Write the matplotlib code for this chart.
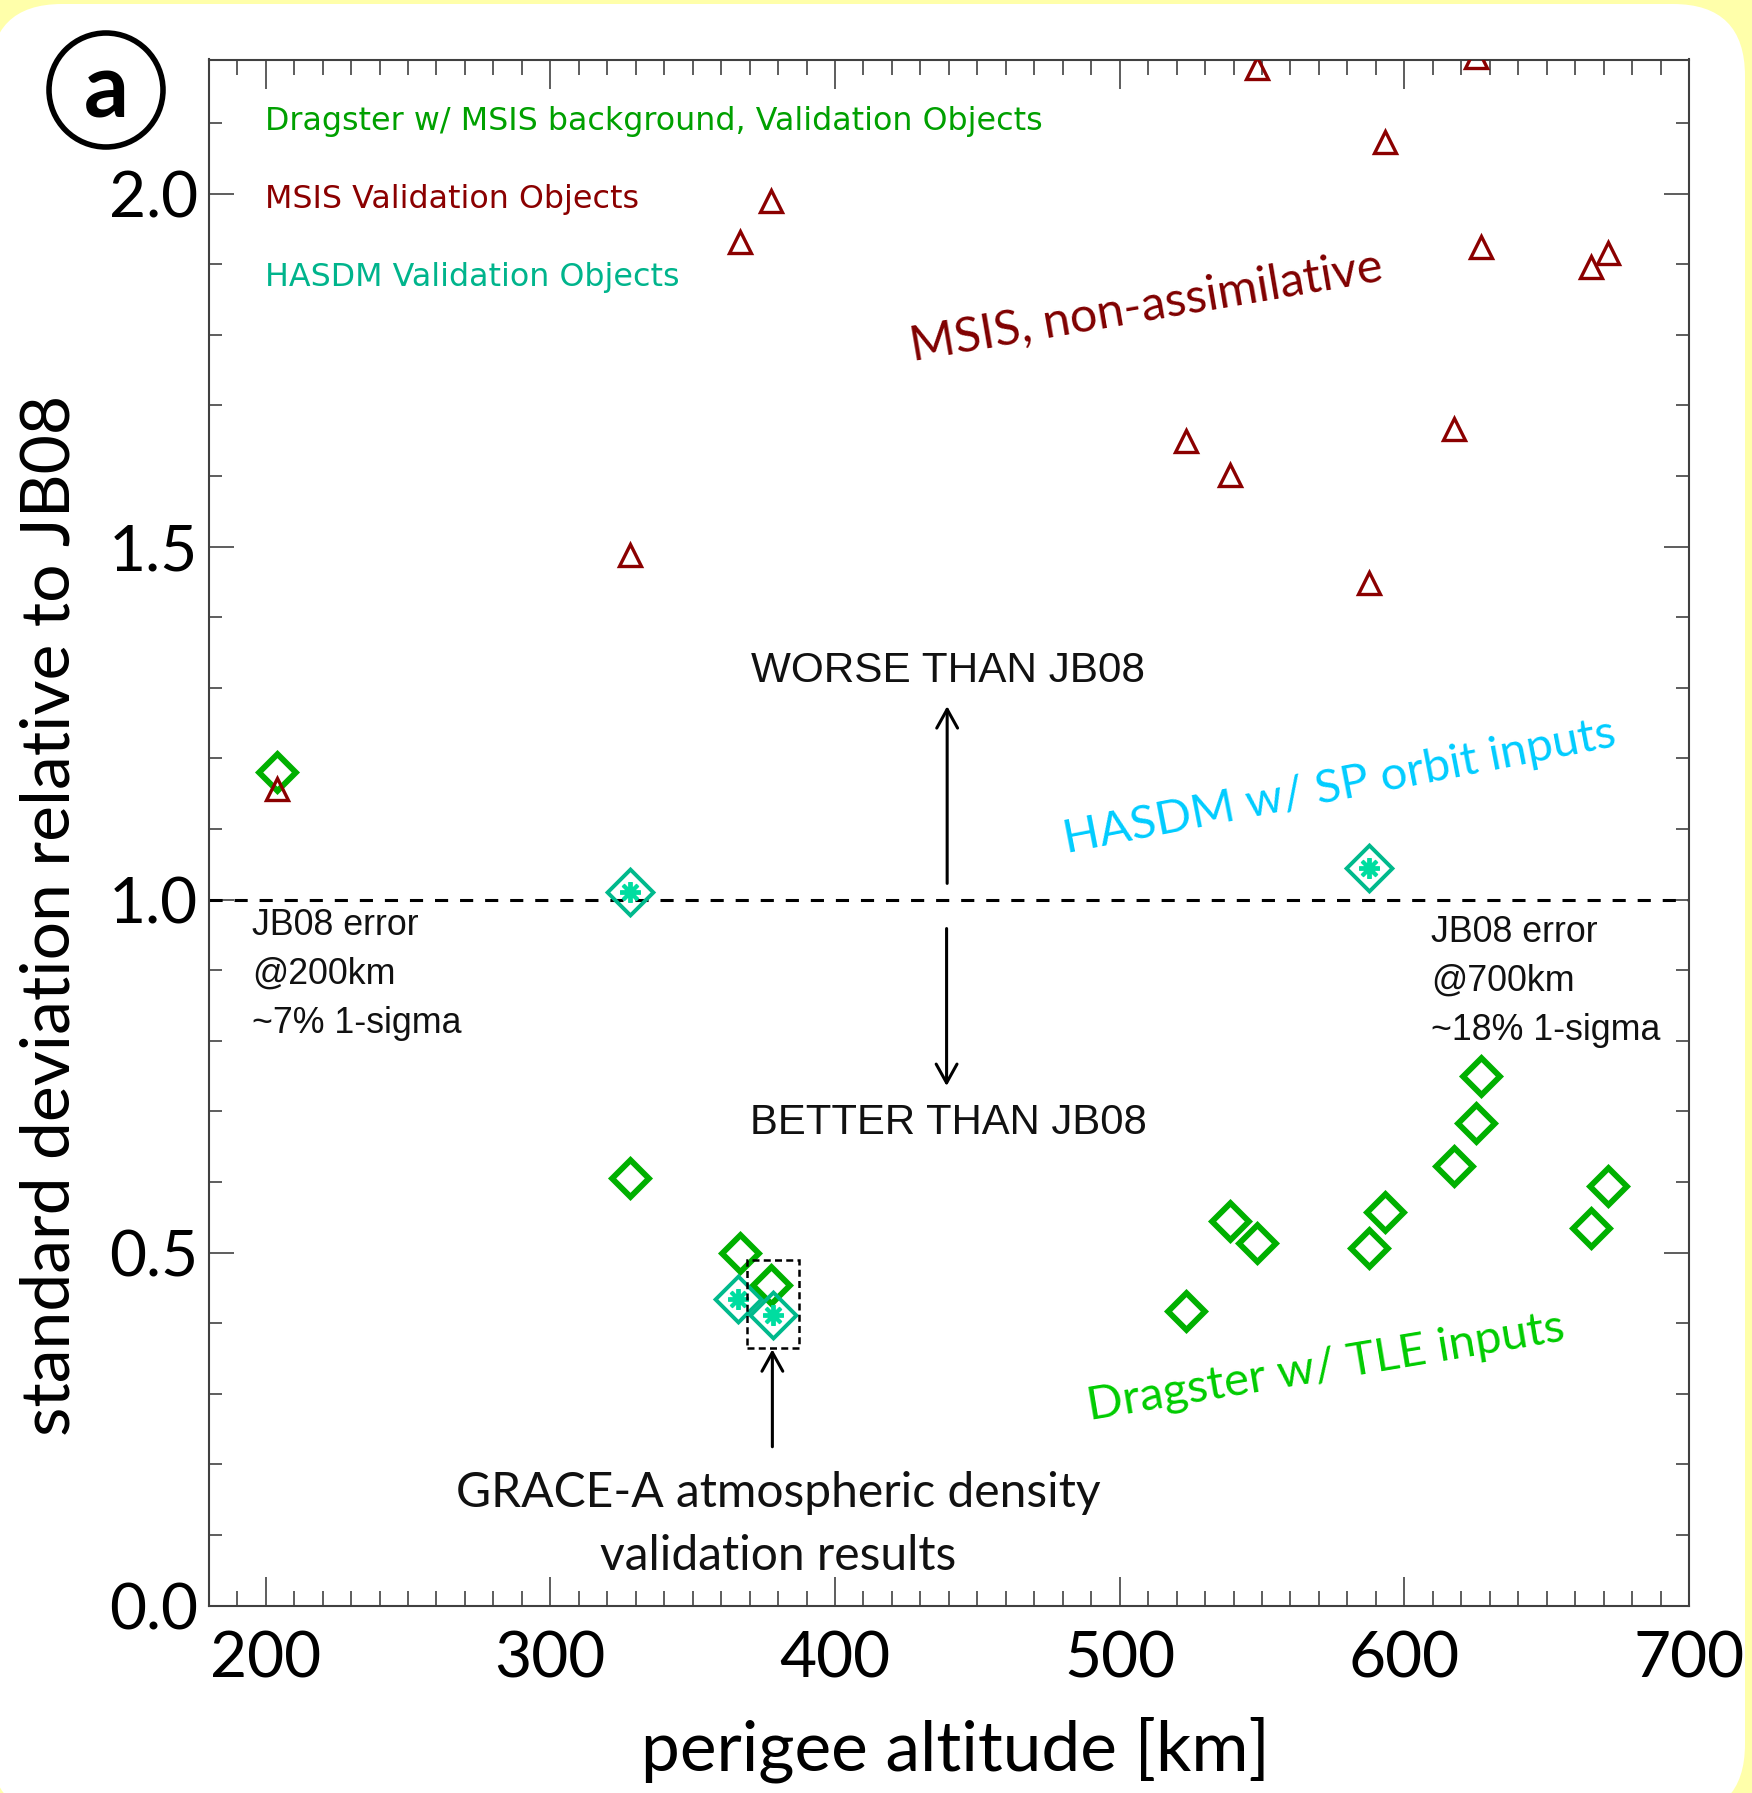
import matplotlib
matplotlib.use("Agg")
import matplotlib.pyplot as plt
from matplotlib.patches import FancyBboxPatch, Rectangle, Circle
from matplotlib.ticker import MultipleLocator

# ---------------- data ----------------
msis_alt = [204.0, 328.1, 366.6, 377.5, 523.3, 538.9, 548.1, 587.5, 593.1, 617.6, 625.2, 626.9, 665.4, 671.4]
msis_sd = [1.157, 1.488, 1.932, 1.990, 1.650, 1.601, 2.178, 1.449, 2.073, 1.666, 2.193, 1.925, 1.896, 1.916]

drag_alt = [204.0, 328.1, 366.6, 377.5, 523.3, 538.9, 548.1, 587.5, 593.1, 617.6, 625.2, 626.9, 665.4, 671.4]
drag_sd = [1.181, 0.605, 0.499, 0.454, 0.417, 0.545, 0.514, 0.506, 0.558, 0.622, 0.684, 0.750, 0.535, 0.595]

hasdm_alt = [328.1, 365.8, 378.3, 587.5]
hasdm_sd = [1.011, 0.434, 0.412, 1.045]

x_ticks = [200, 300, 400, 500, 600, 700]
x_tick_labels = ["200", "300", "400", "500", "600", "700"]
y_ticks = [0.0, 0.5, 1.0, 1.5, 2.0]
y_tick_labels = ["0.0", "0.5", "1.0", "1.5", "2.0"]

legend_labels = ["Dragster w/ MSIS background, Validation Objects",
                 "MSIS Validation Objects",
                 "HASDM Validation Objects"]

# ---------------- style ----------------
W, H, DPI = 1752, 1793, 100
YELLOW = "#FFFFAA"
C_DRAG = "#00B000"
C_MSIS = "#8B0000"
C_HASDM = "#00B98C"
C_HASDM_STAR = "#00DDA0"
CALIBRI = ["Lato", "DejaVu Sans"]
ARIAL = ["Liberation Sans", "DejaVu Sans"]

fig = plt.figure(figsize=(W / DPI, H / DPI), dpi=DPI, facecolor=YELLOW)
T = fig.dpi_scale_trans


def P(x, y):
    """pixel (from top-left) -> inches for dpi_scale_trans"""
    return (x / DPI, (H - y) / DPI)


# white rounded panel
panel = FancyBboxPatch(P(-10, 1816), 1755 / DPI, (1816 - 4) / DPI,
                       boxstyle="round,pad=0,rounding_size=0.72",
                       transform=T, facecolor="white", edgecolor="none", zorder=-10)
fig.patches.append(panel)

ax_l, ax_r, ax_t, ax_b = 209.3, 1689.0, 59.5, 1605.6
ax = fig.add_axes([ax_l / W, 1 - ax_b / H, (ax_r - ax_l) / W, (ax_b - ax_t) / H])
ax.set_facecolor("white")
ax.set_xlim(180.2, 700)
ax.set_ylim(0, 2.19)

renderer = fig.canvas.get_renderer()


def fit_width(t, target):
    rot = t.get_rotation()
    t.set_rotation(0)
    w = t.get_window_extent(renderer).width
    t.set_fontsize(t.get_fontsize() * target / w)
    t.set_rotation(rot)


# ---------------- ticks ----------------
tmp = fig.text(0, 0, "200", fontsize=40, family=CALIBRI)
fit_width(tmp, 111)
tick_fs = tmp.get_fontsize()
tmp.remove()

ax.set_xticks(x_ticks)
ax.set_xticklabels(x_tick_labels)
ax.set_yticks(y_ticks)
ax.set_yticklabels(y_tick_labels)
ax.xaxis.set_minor_locator(MultipleLocator(10))
ax.yaxis.set_minor_locator(MultipleLocator(0.1))
ax.tick_params(which="both", direction="in", top=True, right=True,
               color="#505050", width=1.3)
ax.tick_params(axis="x", which="major", length=21, pad=18)
ax.tick_params(axis="x", which="minor", length=10.5)
ax.tick_params(axis="y", which="major", length=18, pad=8)
ax.tick_params(axis="y", which="minor", length=9.5)
for lab in ax.get_xticklabels() + ax.get_yticklabels():
    lab.set_fontsize(tick_fs)
    lab.set_family(CALIBRI)
for s in ax.spines.values():
    s.set_color("#404040")
    s.set_linewidth(1.5)

# ---------------- axis labels ----------------
xl = ax.set_xlabel("perigee altitude [km]", family=CALIBRI, fontsize=40)
fit_width(xl, 629)
xl.set_va("center")
ax.xaxis.set_label_coords((955 - ax_l) / (ax_r - ax_l), (ax_b - 1750) / (ax_b - ax_t))

yl = ax.set_ylabel("standard deviation relative to JB08", family=CALIBRI, fontsize=40)
fit_width(yl, 1040)
yl.set_va("center")
ax.yaxis.set_label_coords((51 - ax_l) / (ax_r - ax_l), (ax_b - 915) / (ax_b - ax_t))

# ---------------- data marks ----------------
ax.plot(drag_alt, drag_sd, linestyle="none", marker=(4, 0, 0), markersize=26.5,
        markerfacecolor="none", markeredgecolor=C_DRAG, markeredgewidth=4.2, zorder=3)
ax.plot(msis_alt, msis_sd, linestyle="none", marker="^", markersize=16,
        markerfacecolor="none", markeredgecolor=C_MSIS, markeredgewidth=2.4, zorder=4)
ax.plot(hasdm_alt, hasdm_sd, linestyle="none", marker=(4, 0, 0), markersize=33,
        markerfacecolor="none", markeredgecolor=C_HASDM, markeredgewidth=2.8, zorder=5)
ax.plot(hasdm_alt, hasdm_sd, linestyle="none", marker=(8, 2, 0), markersize=15,
        markeredgecolor=C_HASDM_STAR, markeredgewidth=2.8, zorder=6)

# reference line
ax.axhline(1.0, color="black", lw=2.2, ls=(0, (4.3, 3.9)), zorder=2)

# GRACE box and arrows
ax.add_patch(Rectangle((369.0, 0.3655), 18.4, 0.1245, fill=False, edgecolor="black",
                       lw=1.8, ls=(0, (2.8, 1.7)), zorder=7))
arrow_kw = dict(arrowstyle="->,head_length=0.45,head_width=0.25", lw=2.2,
                color="black", mutation_scale=30, shrinkA=0, shrinkB=0)
ax.annotate("", xy=(439.4, 1.274), xytext=(439.4, 1.023), arrowprops=arrow_kw)
ax.annotate("", xy=(439.2, 0.736), xytext=(439.2, 0.959), arrowprops=arrow_kw)
ax.annotate("", xy=(378.0, 0.363), xytext=(378.0, 0.225), arrowprops=arrow_kw)

# ---------------- legend-like texts (IDL style) ----------------
leg_colors = ["#00A000", C_MSIS, "#00B48C"]
leg_base = [130.4, 208.2, 286.0]
leg_fs = None
for i, (txt, col, yb) in enumerate(zip(legend_labels, leg_colors, leg_base)):
    t = fig.text(*P(265, yb), txt, transform=T, color=col, family="DejaVu Sans",
                 fontsize=20, ha="left", va="baseline")
    if i == 0:
        fit_width(t, 778)
        leg_fs = t.get_fontsize()
    else:
        t.set_fontsize(leg_fs)

# ---------------- annotations ----------------
t = fig.text(*P(948, 681.6), "WORSE THAN JB08", transform=T, family=ARIAL,
             fontsize=28, ha="center", va="baseline", color="#111111")
fit_width(t, 393)
t = fig.text(*P(948, 1134.5), "BETTER THAN JB08", transform=T, family=ARIAL,
             fontsize=28, ha="center", va="baseline", color="#111111")
fit_width(t, 397)

left_lines = ["JB08 error", "@200km", "~7% 1-sigma"]
right_lines = ["JB08 error", "@700km", "~18% 1-sigma"]
t = fig.text(0, 0, "JB08 error", family=ARIAL, fontsize=24)
fit_width(t, 167)
note_fs = t.get_fontsize()
t.remove()
for ln, yb in zip(left_lines, [935, 984, 1033]):
    fig.text(*P(252, yb), ln, transform=T, family=ARIAL, fontsize=note_fs,
             ha="left", va="baseline", color="#111111")
for ln, yb in zip(right_lines, [941.5, 991, 1040]):
    fig.text(*P(1431, yb), ln, transform=T, family=ARIAL, fontsize=note_fs,
             ha="left", va="baseline", color="#111111")

t = fig.text(*P(778, 1507), "GRACE-A atmospheric density", transform=T,
             family=CALIBRI, fontsize=40, ha="center", va="baseline", color="#111111")
fit_width(t, 645)
grace_fs = t.get_fontsize()
fig.text(*P(778, 1570), "validation results", transform=T, family=CALIBRI,
         fontsize=grace_fs, ha="center", va="baseline", color="#111111")

# rotated model labels
for txt, col, c, ang, w in [
    ("MSIS, non-assimilative", "#800000", (1146, 306), 9.7, 480),
    ("HASDM w/ SP orbit inputs", "#00CCFF", (1340, 787), 11.0, 562),
    ("Dragster w/ TLE inputs", "#00CC00", (1326, 1367), 9.5, 484),
]:
    t = fig.text(*P(*c), txt, transform=T, family=CALIBRI, fontsize=34, color=col,
                 ha="center", va="center", rotation=ang, rotation_mode="anchor")
    fit_width(t, w)

# panel label (a)
fig.patches.append(Circle(P(106, 90), 0.57, transform=T, fill=False,
                          edgecolor="black", lw=4, zorder=5))
fig.text(*P(106, 92), "a", transform=T, family=CALIBRI, weight="bold",
         fontsize=64, ha="center", va="center", color="black")

fig.savefig("out.png", dpi=DPI, facecolor=YELLOW)
